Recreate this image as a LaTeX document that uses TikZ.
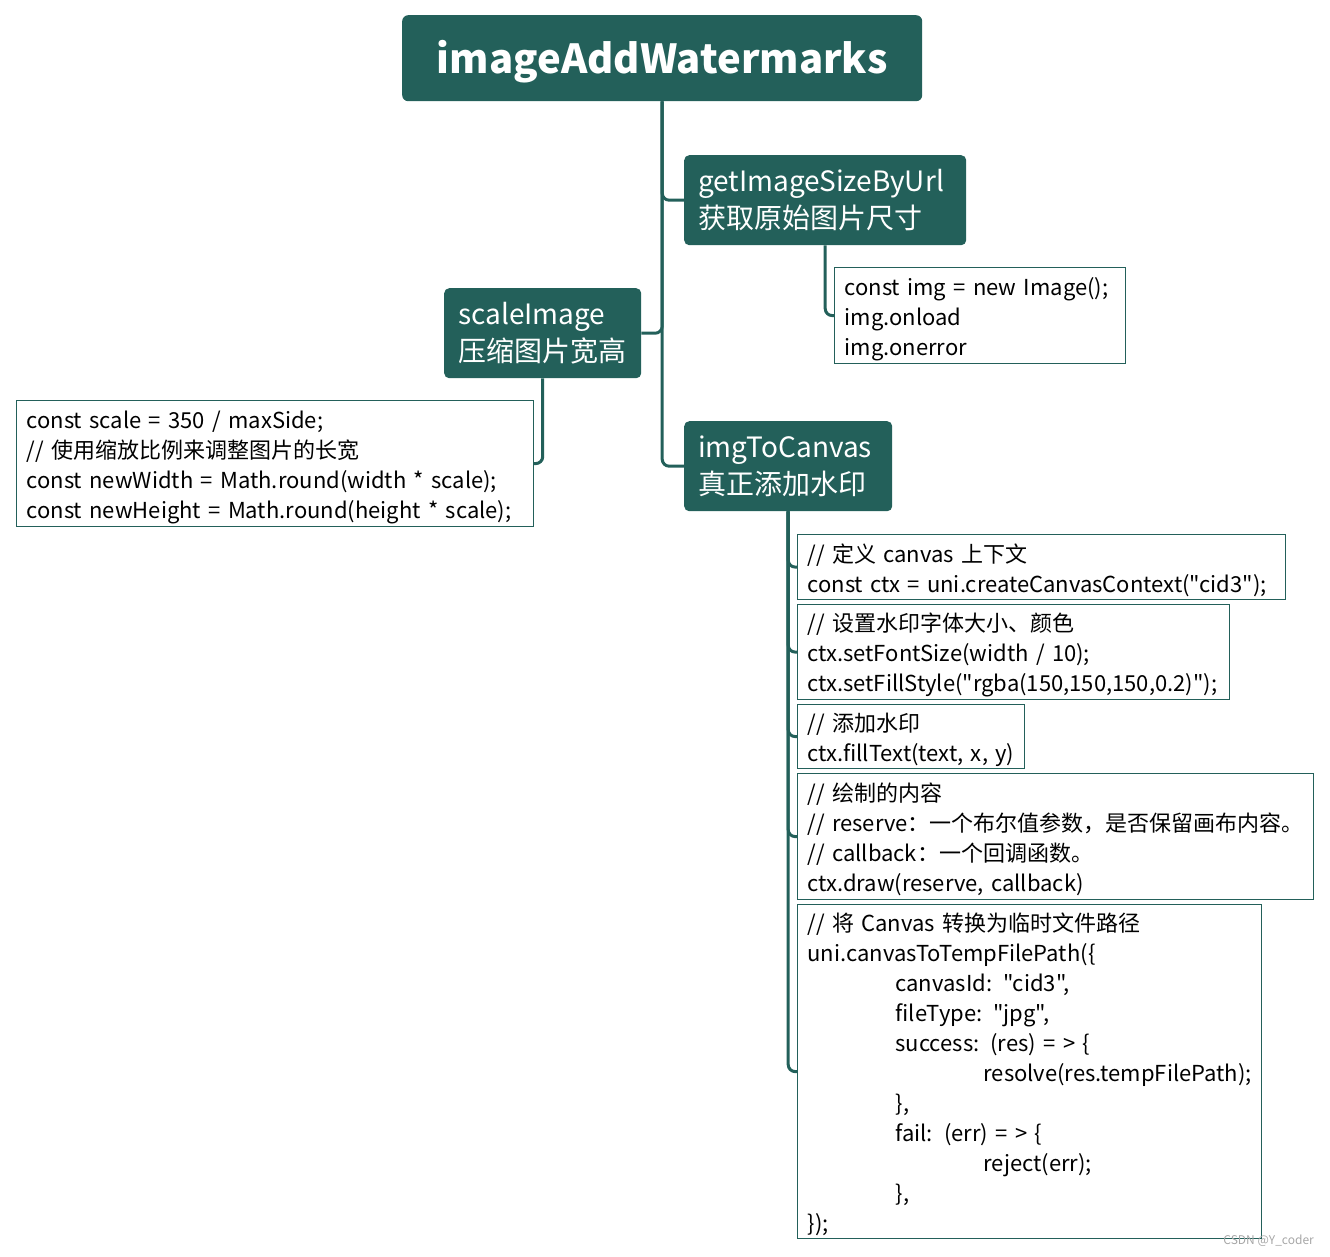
\documentclass[tikz,border=0pt]{standalone}
\usepackage{fontspec}
\newfontfamily\nfont{Noto Sans CJK SC}
\definecolor{teal}{RGB}{35,96,90}
\tikzset{
  topic/.style={fill=teal, rounded corners=5pt, text=white, anchor=north west, inner xsep=14pt, inner ysep=0pt, align=left, font=\nfont\fontsize{28}{37}\selectfont},
  codebox/.style={draw=teal, line width=1.2pt, anchor=north west, inner xsep=10pt, inner ysep=0pt, align=left, font=\nfont\fontsize{22}{30}\selectfont, execute at begin node={\rule{0pt}{25pt}}},
  link/.style={draw=teal, line width=3pt, rounded corners=7pt}
}
\newcommand{\tabA}{\hspace*{88pt}}
\newcommand{\dq}{\symbol{34}}
\newcommand{\codeln}[1]{\mbox{#1}}
\begin{document}
\begin{tikzpicture}[x=1pt,y=-1pt]
\useasboundingbox (0,0) rectangle (1330,1256);
% root
\node[fill=teal, rounded corners=6pt, text=white, minimum width=520pt, minimum height=86pt, anchor=north west, inner sep=0pt, font=\nfont\fontsize{40}{48}\selectfont\bfseries] (root) at (402,15) {\raisebox{-15pt}[0pt][0pt]{imageAddWatermarks}};
% topics
\node[topic, text width=254pt, minimum height=90pt] (getsize) at (684,155) {getImageSizeByUrl\\获取原始图片尺寸};
\node[topic, text width=169pt, minimum height=90pt] (scale) at (444,288) {scaleImage\\压缩图片宽高};
\node[topic, text width=180pt, minimum height=90pt] (canvas) at (684,421) {imgToCanvas\\真正添加水印};
% code boxes
\node[codebox, text width=271pt, minimum height=96pt] (img) at (834,267) {\codeln{const img = new Image();}\\img.onload\\img.onerror};
\node[codebox, text width=497pt, minimum height=126pt] (sc) at (16,400) {\codeln{const scale = 350 / maxSide;}\\\codeln{// 使用缩放比例来调整图片的长宽}\\\codeln{const newWidth = Math.round(width * scale);}\\\codeln{const newHeight = Math.round(height * scale);}};
\node[codebox, text width=468pt, minimum height=65pt] (b1) at (797,534) {\codeln{// 定义 canvas 上下文}\\\codeln{const ctx = uni.createCanvasContext(\dq cid3\dq);}};
\node[codebox, text width=412pt, minimum height=95pt] (b2) at (797,604) {\codeln{// 设置水印字体大小、颜色}\\\codeln{ctx.setFontSize(width / 10);}\\\codeln{ctx.setFillStyle(\dq rgba(150,150,150,0.2)\dq);}};
\node[codebox, text width=207pt, minimum height=64pt] (b3) at (797,704) {\codeln{// 添加水印}\\\codeln{ctx.fillText(text, x, y)}};
\node[codebox, text width=496pt, minimum height=126pt] (b4) at (797,773) {\codeln{// 绘制的内容}\\\codeln{// reserve：一个布尔值参数，是否保留画布内容。}\\\codeln{// callback：一个回调函数。}\\\codeln{ctx.draw(reserve, callback)}};
\node[codebox, text width=444pt, minimum height=334pt] (b5) at (797,904) {\codeln{// 将 Canvas 转换为临时文件路径}\\\codeln{uni.canvasToTempFilePath(\{}\\\codeln{\tabA canvasId: \dq cid3\dq,}\\\codeln{\tabA fileType: \dq jpg\dq,}\\\codeln{\tabA success: (res) = > \{}\\\codeln{\tabA\tabA resolve(res.tempFilePath);}\\\codeln{\tabA \},}\\\codeln{\tabA fail: (err) = > \{}\\\codeln{\tabA\tabA reject(err);}\\\codeln{\tabA \},}\\\codeln{\});}};
% watermark
\node[anchor=east, text=gray!70, font=\nfont\fontsize{12}{14}\selectfont, inner sep=0pt] (wm) at (1314,1241) {CSDN @Y\_coder};
% connectors
\draw[link] (root.south) |- (getsize.west);
\draw[link] (root.south) |- (scale.east);
\draw[link] (root.south) |- (canvas.west);
\draw[link] (getsize.south) |- (img.west);
\draw[link] (scale.south) |- (sc.east);
\draw[link] (canvas.south) |- (b1.west);
\draw[link] (canvas.south) |- (b2.west);
\draw[link] (canvas.south) |- (b3.west);
\draw[link] (canvas.south) |- (b4.west);
\draw[link] (canvas.south) |- (b5.west);
\end{tikzpicture}
\end{document}
